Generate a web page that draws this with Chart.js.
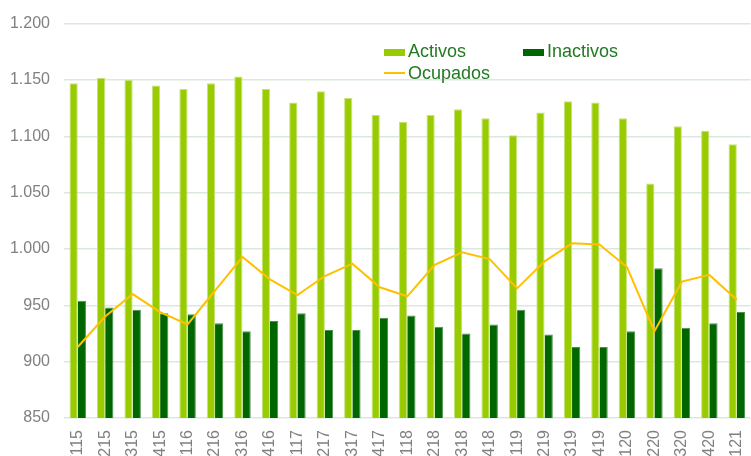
<!DOCTYPE html>
<html>
<head>
<meta charset="utf-8">
<script src="https://cdn.jsdelivr.net/npm/chart.js@4"></script>
<style>
  html, body { margin: 0; padding: 0; background: #fff; overflow: hidden; width: 751px; height: 456px; }
  #wrap { position: absolute; left: 0; top: 0; width: 760px; height: 470px; }
  .leg { position: absolute; font-family: "Liberation Sans", Arial, sans-serif; font-size: 18px; color: #217a21; white-space: nowrap; line-height: 18px; }
  .leg i { display: inline-block; width: 21px; height: 7px; margin-right: 3px; vertical-align: 1px; }
  .leg i.ln { height: 2px; vertical-align: 5px; }
</style>
</head>
<body>
<div id="wrap"><canvas id="chart" width="760" height="470"></canvas></div>
<div id="legend"></div>
<script>
const quarters = ['T115','T215','T315','T415','T116','T216','T316','T416','T117','T217','T317','T417',
  'T118','T218','T318','T418','T119','T219','T319','T419','T120','T220','T320','T420','T121'];
const activos = [1147,1152,1150,1145,1142,1147,1153,1142,1130,1140,1134,1119,
  1113,1119,1124,1116,1101,1121,1131,1130,1116,1058,1109,1105,1093];
const inactivos = [954,948,946,943,942,934,927,936,943,928,928,939,
  941,931,925,933,946,924,913,913,927,983,930,934,944];
const ocupados = [913,940,960,944,933,963,993,973,959,976,987,966,
  958,986,997,991,965,989,1005,1004,984,927,971,977,955];
const yTicks = { min: 850, max: 1200, step: 50 };

const font = { family: '"Liberation Sans", Arial, sans-serif', size: 16 };
const fmt = v => String(v).replace(/\B(?=(\d{3})+(?!\d))/g, '.');

const ctx = document.getElementById('chart');
const chart = new Chart(ctx, {
  type: 'bar',
  data: {
    labels: quarters,
    datasets: [
      { type: 'line', label: 'Ocupados', data: ocupados, borderColor: '#ffc000', borderWidth: 2,
        pointRadius: 0, tension: 0, fill: false, order: 0 },
      { label: 'Activos', data: activos, backgroundColor: '#99cc00', borderColor: '#c4e27a',
        borderWidth: { top: 1, left: 1, right: 1, bottom: 0 }, barPercentage: 1, categoryPercentage: 0.6, order: 1 },
      { label: 'Inactivos', data: inactivos, backgroundColor: '#006600', borderColor: '#4d8f4d',
        borderWidth: { top: 1, left: 0, right: 1, bottom: 0 }, barPercentage: 1, categoryPercentage: 0.6, order: 1 }
    ]
  },
  options: {
    responsive: false,
    animation: false,
    devicePixelRatio: 1,
    layout: { padding: { top: 20, right: 0, left: 0, bottom: 0 } },
    plugins: { legend: { display: false }, tooltip: { enabled: false } },
    scales: {
      x: {
        offset: true,
        grid: { display: false },
        border: { display: false },
        ticks: { color: '#808080', font, maxRotation: 90, minRotation: 90, autoSkip: false, padding: 4 },
        afterFit: s => { s.height = 52; }
      },
      y: {
        min: yTicks.min, max: yTicks.max,
        grid: { color: '#dbe8db', lineWidth: 1.5, drawTicks: false },
        border: { display: false },
        ticks: { stepSize: yTicks.step, color: '#808080', font, padding: 14, callback: v => fmt(v) },
        afterFit: s => { s.width = 64; }
      }
    }
  }
});

// leyenda manual dentro del área del gráfico
const legendItems = [
  { ds: 1, x: 384, y: 42 },
  { ds: 2, x: 523, y: 42 },
  { ds: 0, x: 384, y: 64 }
];
const legend = document.getElementById('legend');
legendItems.forEach(item => {
  const d = chart.data.datasets[item.ds];
  const el = document.createElement('div');
  el.className = 'leg';
  el.style.left = item.x + 'px';
  el.style.top = item.y + 'px';
  const isLine = d.type === 'line';
  el.innerHTML = `<i class="${isLine ? 'ln' : ''}" style="background:${isLine ? d.borderColor : d.backgroundColor}"></i>${d.label}`;
  legend.appendChild(el);
});
</script>
</body>
</html>
